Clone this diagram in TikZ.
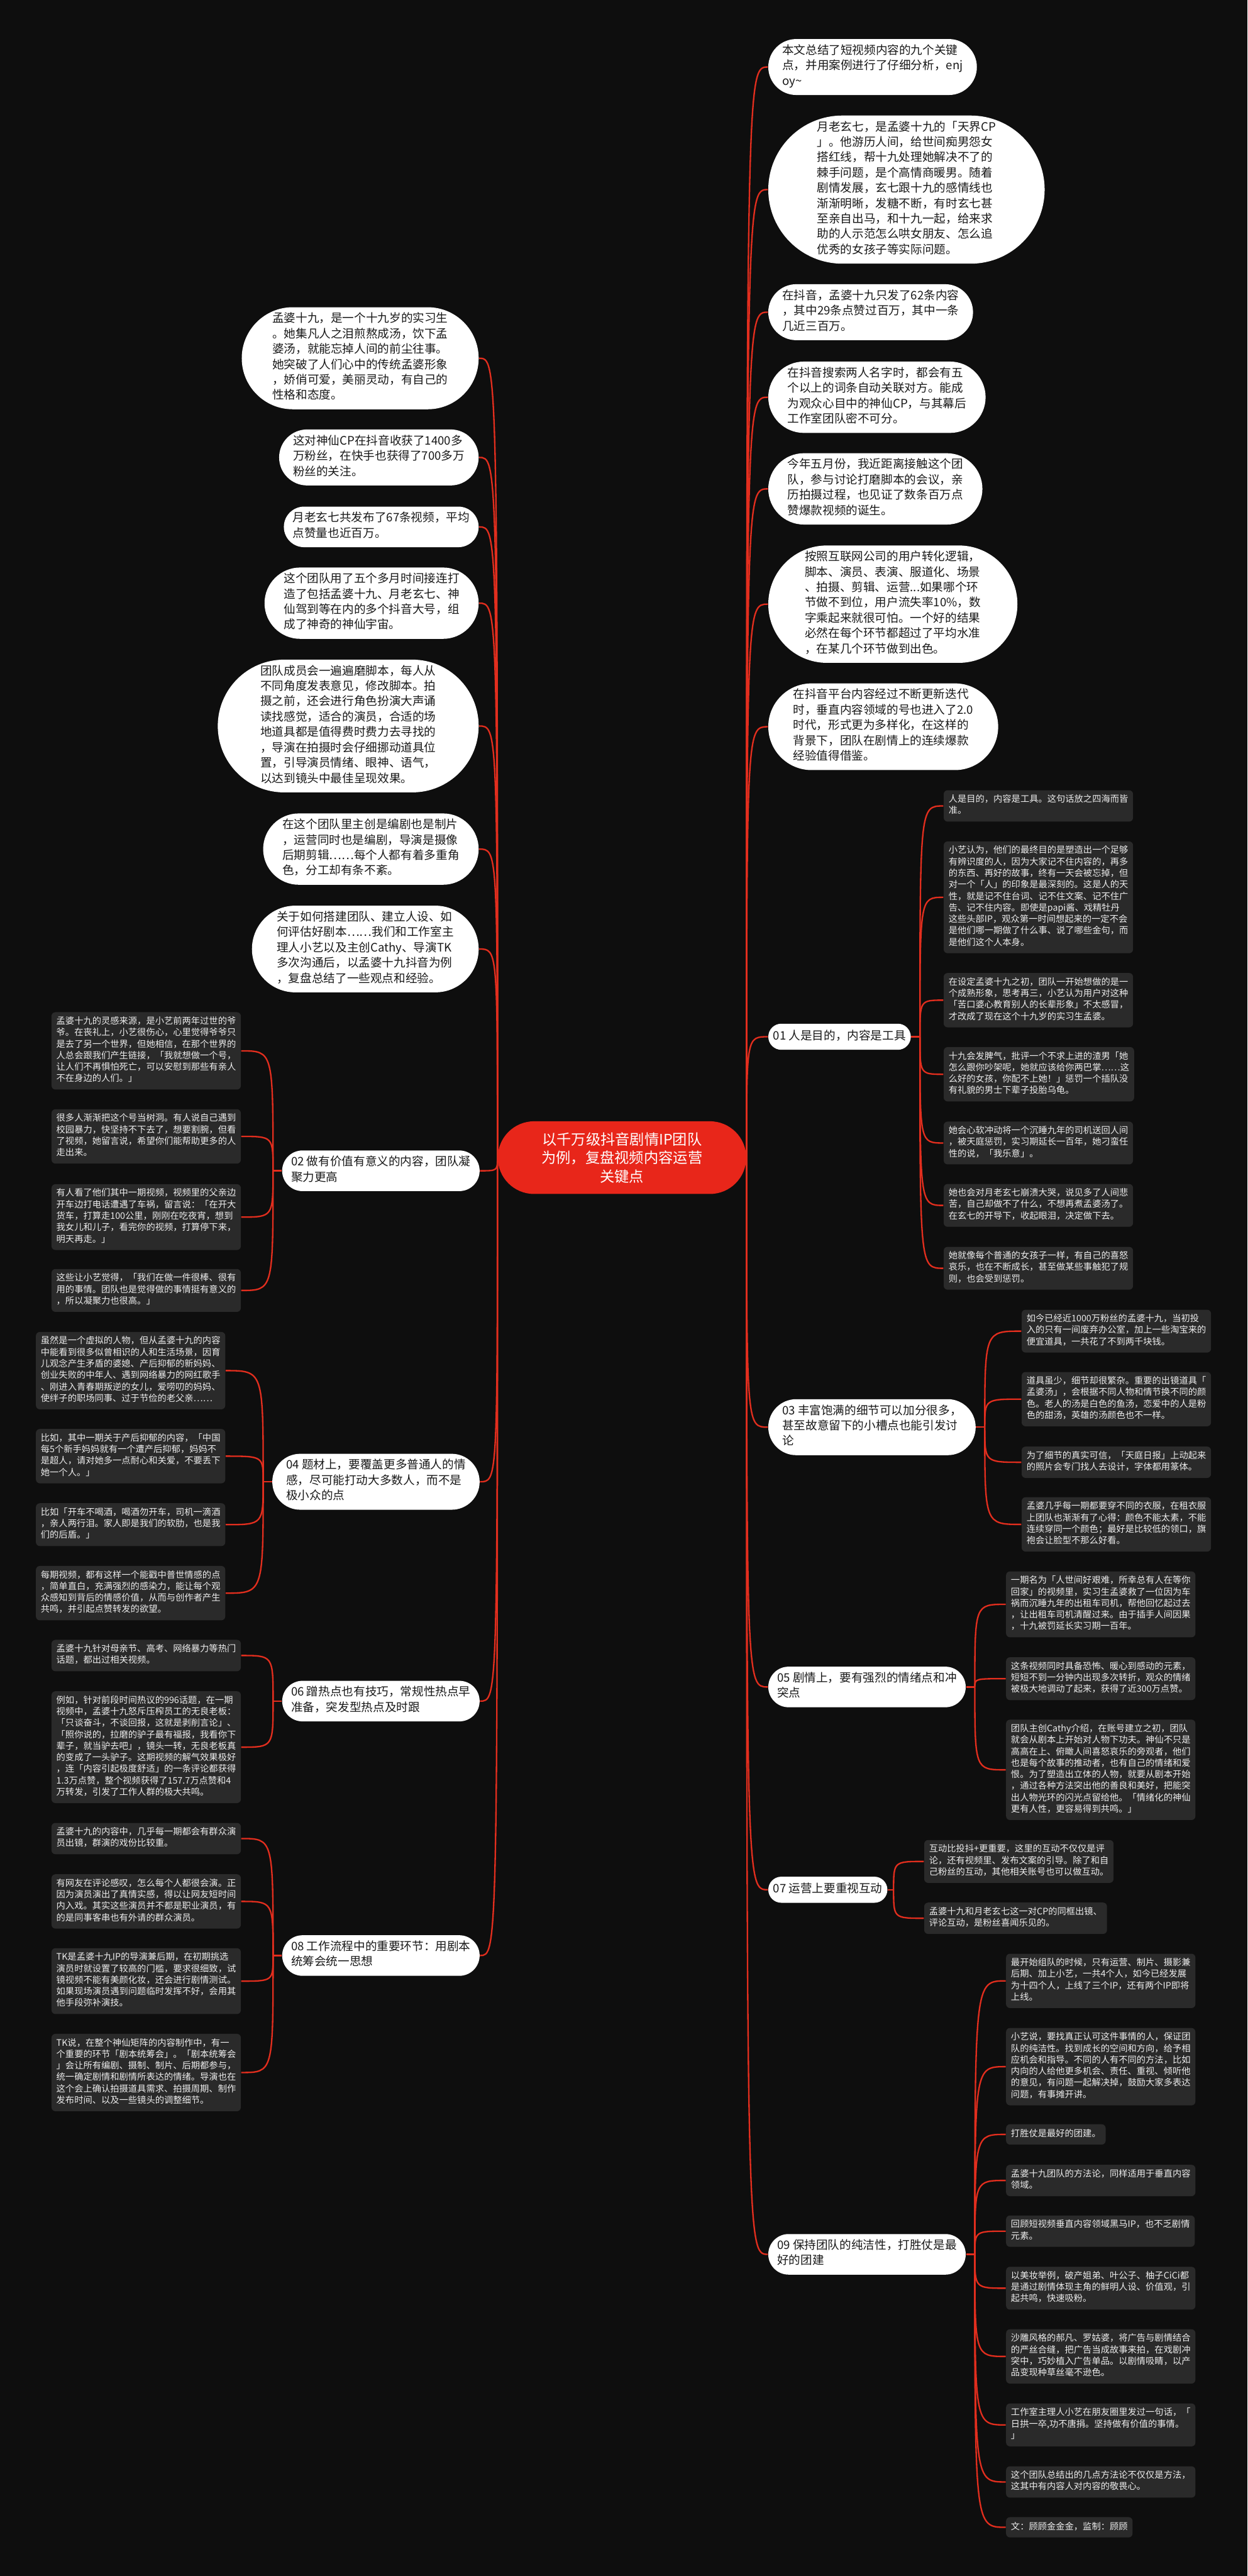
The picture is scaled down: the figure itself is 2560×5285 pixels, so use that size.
\documentclass[tikz,border=0pt]{standalone}
\usepackage{fontspec}
\setmainfont{Noto Sans CJK SC}
\XeTeXlinebreaklocale "zh"
\usepackage{xcolor}
\definecolor{bgblack}{RGB}{14,14,14}
\definecolor{leafgray}{RGB}{42,42,42}
\definecolor{mapred}{RGB}{226,46,30}
\definecolor{rootred}{RGB}{232,38,26}
\usetikzlibrary{shapes.misc, calc}
\pgfdeclarelayer{bg}
\pgfdeclarelayer{links}
\pgfsetlayers{bg,links,main}

\begin{document}
\begin{tikzpicture}[
  x=0.01cm, y=-0.01cm,
  link/.style={draw=mapred, line width=0.03cm},
  brace/.style={to path={.. controls (\tikztostart |- \tikztotarget) .. (\tikztotarget)}},
  bubble/.style={rounded rectangle, fill=white, text=black!90, font=\fontsize{6.83pt}{8.96pt}\selectfont, align=left, inner xsep=0.05cm, inner ysep=0.11cm, execute at begin node=\strut, execute at end node=\strut},
  leaf/.style={rectangle, rounded corners=0.08cm, fill=leafgray, text=white!93!black, font=\fontsize{5.24pt}{6.71pt}\selectfont, align=left, inner xsep=0.1cm, inner ysep=0.09cm, execute at begin node=\strut, execute at end node=\strut},
  root/.style={rounded rectangle, fill=rootred, text=white, font=\fontsize{8.54pt}{10.8pt}\selectfont, align=center, minimum height=1.49cm, minimum width=5.33cm}
]
  \useasboundingbox (0,0) rectangle (2560,5285);
  \begin{pgfonlayer}{bg}
    \fill[bgblack] (0,0) rectangle (2560,5285);
  \end{pgfonlayer}

  % root
  \node[root] (root) at (1276.5,2375) {以千万级抖音剧情IP团队\\为例，复盘视频内容运营\\关键点};

  % right side, free notes
  \node[bubble, anchor=west] (r1) at (1576,137.5) {本文总结了短视频内容的九个关键\\点，并用案例进行了仔细分析，enj\\oy\textasciitilde};
  \node[bubble, anchor=west] (r2) at (1576,389) {月老玄七，是孟婆十九的「天界CP\\」。他游历人间，给世间痴男怨女\\搭红线，帮十九处理她解决不了的\\棘手问题，是个高情商暖男。随着\\剧情发展，玄七跟十九的感情线也\\渐渐明晰，发糖不断，有时玄七甚\\至亲自出马，和十九一起，给来求\\助的人示范怎么哄女朋友、怎么追\\优秀的女孩子等实际问题。};
  \node[bubble, anchor=west] (r3) at (1576,640.5) {在抖音，孟婆十九只发了62条内容\\，其中29条点赞过百万，其中一条\\几近三百万。};
  \node[bubble, anchor=west] (r4) at (1576,815) {在抖音搜索两人名字时，都会有五\\个以上的词条自动关联对方。能成\\为观众心目中的神仙CP，与其幕后\\工作室团队密不可分。};
  \node[bubble, anchor=west] (r5) at (1576,1003) {今年五月份，我近距离接触这个团\\队，参与讨论打磨脚本的会议，亲\\历拍摄过程，也见证了数条百万点\\赞爆款视频的诞生。};
  \node[bubble, anchor=west] (r6) at (1576,1239.5) {按照互联网公司的用户转化逻辑，\\脚本、演员、表演、服道化、场景\\、拍摄、剪辑、运营...如果哪个环\\节做不到位，用户流失率10\%，数\\字乘起来就很可怕。一个好的结果\\必然在每个环节都超过了平均水准\\，在某几个环节做到出色。};
  \node[bubble, anchor=west] (r7) at (1576,1491) {在抖音平台内容经过不断更新迭代\\时，垂直内容领域的号也进入了2.0\\时代，形式更为多样化，在这样的\\背景下，团队在剧情上的连续爆款\\经验值得借鉴。};

  % left side, free notes
  \node[bubble, anchor=east] (l1) at (983,735) {孟婆十九，是一个十九岁的实习生\\。她集凡人之泪煎熬成汤，饮下孟\\婆汤，就能忘掉人间的前尘往事。\\她突破了人们心中的传统孟婆形象\\，娇俏可爱，美丽灵动，有自己的\\性格和态度。};
  \node[bubble, anchor=east] (l2) at (983,938.5) {这对神仙CP在抖音收获了1400多\\万粉丝，在快手也获得了700多万\\粉丝的关注。};
  \node[bubble, anchor=east] (l3) at (983,1081) {月老玄七共发布了67条视频，平均\\点赞量也近百万。};
  \node[bubble, anchor=east] (l4) at (983,1237.5) {这个团队用了五个多月时间接连打\\造了包括孟婆十九、月老玄七、神\\仙驾到等在内的多个抖音大号，组\\成了神奇的神仙宇宙。};
  \node[bubble, anchor=east] (l5) at (983,1489.5) {团队成员会一遍遍磨脚本，每人从\\不同角度发表意见，修改脚本。拍\\摄之前，还会进行角色扮演大声诵\\读找感觉，适合的演员，合适的场\\地道具都是值得费时费力去寻找的\\，导演在拍摄时会仔细挪动道具位\\置，引导演员情绪、眼神、语气，\\以达到镜头中最佳呈现效果。};
  \node[bubble, anchor=east] (l6) at (983,1742) {在这个团队里主创是编剧也是制片\\，运营同时也是编剧，导演是摄像\\后期剪辑……每个人都有着多重角\\色，分工却有条不紊。};
  \node[bubble, anchor=east] (l7) at (983,1947) {关于如何搭建团队、建立人设、如\\何评估好剧本……我们和工作室主\\理人小艺以及主创Cathy、导演TK\\多次沟通后，以孟婆十九抖音为例\\，复盘总结了一些观点和经验。};

  % the nine key points
  \node[bubble, anchor=west] (b01) at (1576,2127) {01 人是目的，内容是工具};
  \node[bubble, anchor=east] (b02) at (985,2402) {02 做有价值有意义的内容，团队凝\\聚力更高};
  \node[bubble, anchor=west] (b03) at (1576,2928) {03 丰富饱满的细节可以加分很多，\\甚至故意留下的小槽点也能引发讨\\论};
  \node[bubble, anchor=east] (b04) at (985,3040) {04 题材上，要覆盖更多普通人的情\\感，尽可能打动大多数人，而不是\\极小众的点};
  \node[bubble, anchor=west] (b05) at (1576,3461) {05 剧情上，要有强烈的情绪点和冲\\突点};
  \node[bubble, anchor=east] (b06) at (985,3490) {06 蹭热点也有技巧，常规性热点早\\准备，突发型热点及时跟};
  \node[bubble, anchor=west] (b07) at (1576,3877) {07 运营上要重视互动};
  \node[bubble, anchor=east] (b08) at (985,4012) {08 工作流程中的重要环节：用剧本\\统筹会统一思想};
  \node[bubble, anchor=west] (b09) at (1576,4625) {09 保持团队的纯洁性，打胜仗是最\\好的团建};

  % 01
  \node[leaf, anchor=west] (c01-1) at (1936,1653.5) {人是目的，内容是工具。这句话放之四海而皆\\准。};
  \node[leaf, anchor=west] (c01-2) at (1936,1841) {小艺认为，他们的最终目的是塑造出一个足够\\有辨识度的人，因为大家记不住内容的，再多\\的东西、再好的故事，终有一天会被忘掉，但\\对一个「人」的印象是最深刻的。这是人的天\\性，就是记不住台词、记不住文案、记不住广\\告、记不住内容。即使是papi酱、戏精牡丹\\这些头部IP，观众第一时间想起来的一定不会\\是他们哪一期做了什么事、说了哪些金句，而\\是他们这个人本身。};
  \node[leaf, anchor=west] (c01-3) at (1936,2052) {在设定孟婆十九之初，团队一开始想做的是一\\个成熟形象，思考再三，小艺认为用户对这种\\「苦口婆心教育别人的长辈形象」不太感冒，\\才改成了现在这个十九岁的实习生孟婆。};
  \node[leaf, anchor=west] (c01-4) at (1936,2204) {十九会发脾气，批评一个不求上进的渣男「她\\怎么跟你吵架呢，她就应该给你两巴掌……这\\么好的女孩，你配不上她！」惩罚一个插队没\\有礼貌的男士下辈子投胎乌龟。};
  \node[leaf, anchor=west] (c01-5) at (1936,2345) {她会心软冲动将一个沉睡九年的司机送回人间\\，被天庭惩罚，实习期延长一百年，她刁蛮任\\性的说，「我乐意」。};
  \node[leaf, anchor=west] (c01-6) at (1936,2473) {她也会对月老玄七崩溃大哭，说见多了人间悲\\苦，自己却做不了什么，不想再煮孟婆汤了。\\在玄七的开导下，收起眼泪，决定做下去。};
  \node[leaf, anchor=west] (c01-7) at (1936,2602) {她就像每个普通的女孩子一样，有自己的喜怒\\哀乐，也在不断成长，甚至做某些事触犯了规\\则，也会受到惩罚。};

  % 02
  \node[leaf, anchor=east] (c02-1) at (495,2156) {孟婆十九的灵感来源，是小艺前两年过世的爷\\爷。在丧礼上，小艺很伤心，心里觉得爷爷只\\是去了另一个世界，但她相信，在那个世界的\\人总会跟我们产生链接，「我就想做一个号，\\让人们不再惧怕死亡，可以安慰到那些有亲人\\不在身边的人们。」};
  \node[leaf, anchor=east] (c02-2) at (495,2331.5) {很多人渐渐把这个号当树洞。有人说自己遇到\\校园暴力，快坚持不下去了，想要割腕，但看\\了视频，她留言说，希望你们能帮助更多的人\\走出来。};
  \node[leaf, anchor=east] (c02-3) at (495,2497) {有人看了他们其中一期视频，视频里的父亲边\\开车边打电话遭遇了车祸，留言说：「在开大\\货车，打算走100公里，刚刚在吃夜宵，想到\\我女儿和儿子，看完你的视频，打算停下来，\\明天再走。」};
  \node[leaf, anchor=east] (c02-4) at (495,2647.5) {这些让小艺觉得，「我们在做一件很棒、很有\\用的事情。团队也是觉得做的事情挺有意义的\\，所以凝聚力也很高。」};

  % 03
  \node[leaf, anchor=west] (c03-1) at (2096,2731) {如今已经近1000万粉丝的孟婆十九，当初投\\入的只有一间废弃办公室，加上一些淘宝来的\\便宜道具，一共花了不到两千块钱。};
  \node[leaf, anchor=west] (c03-2) at (2096,2870.5) {道具虽少，细节却很繁杂。重要的出镜道具「\\孟婆汤」，会根据不同人物和情节换不同的颜\\色。老人的汤是白色的鱼汤，恋爱中的人是粉\\色的甜汤，英雄的汤颜色也不一样。};
  \node[leaf, anchor=west] (c03-3) at (2096,3000) {为了细节的真实可信，「天庭日报」上动起来\\的照片会专门找人去设计，字体都用篆体。};
  \node[leaf, anchor=west] (c03-4) at (2096,3127.5) {孟婆几乎每一期都要穿不同的衣服，在租衣服\\上团队也渐渐有了心得：颜色不能太素，不能\\连续穿同一个颜色；最好是比较低的领口，旗\\袍会让脸型不那么好看。};

  % 04
  \node[leaf, anchor=east] (c04-1) at (463,2812) {虽然是一个虚拟的人物，但从孟婆十九的内容\\中能看到很多似曾相识的人和生活场景，因育\\儿观念产生矛盾的婆媳、产后抑郁的新妈妈、\\创业失败的中年人、遇到网络暴力的网红歌手\\、刚进入青春期叛逆的女儿，爱唠叨的妈妈、\\使绊子的职场同事、过于节俭的老父亲……};
  \node[leaf, anchor=east] (c04-2) at (463,2987.5) {比如，其中一期关于产后抑郁的内容，「中国\\每5个新手妈妈就有一个遭产后抑郁，妈妈不\\是超人，请对她多一点耐心和关爱，不要丢下\\她一个人。」};
  \node[leaf, anchor=east] (c04-3) at (463,3128) {比如「开车不喝酒，喝酒勿开车，司机一滴酒\\，亲人两行泪。家人即是我们的软肋，也是我\\们的后盾。」};
  \node[leaf, anchor=east] (c04-4) at (463,3268.5) {每期视频，都有这样一个能戳中普世情感的点\\，简单直白，充满强烈的感染力，能让每个观\\众感知到背后的情感价值，从而与创作者产生\\共鸣，并引起点赞转发的欲望。};

  % 05
  \node[leaf, anchor=west] (c05-1) at (2064,3291.5) {一期名为「人世间好艰难，所幸总有人在等你\\回家」的视频里，实习生孟婆救了一位因为车\\祸而沉睡九年的出租车司机，帮他回忆起过去\\，让出租车司机清醒过来。由于插手人间因果\\，十九被罚延长实习期一百年。};
  \node[leaf, anchor=west] (c05-2) at (2064,3444) {这条视频同时具备恐怖、暖心到感动的元素，\\短短不到一分钟内出现多次转折，观众的情绪\\被极大地调动了起来，获得了近300万点赞。};
  \node[leaf, anchor=west] (c05-3) at (2064,3631) {团队主创Cathy介绍，在账号建立之初，团队\\就会从剧本上开始对人物下功夫。神仙不只是\\高高在上、俯瞰人间喜怒哀乐的旁观者，他们\\也是每个故事的推动者，也有自己的情绪和爱\\恨。为了塑造出立体的人物，就要从剧本开始\\，通过各种方法突出他的善良和美好，把能突\\出人物光环的闪光点留给他。「情绪化的神仙\\更有人性，更容易得到共鸣。」};

  % 06
  \node[leaf, anchor=east] (c06-1) at (495,3396.5) {孟婆十九针对母亲节、高考、网络暴力等热门\\话题，都出过相关视频。};
  \node[leaf, anchor=east] (c06-2) at (495,3584.5) {例如，针对前段时间热议的996话题，在一期\\视频中，孟婆十九怒斥压榨员工的无良老板：\\「只谈奋斗，不谈回报，这就是剥削言论」、\\「照你说的，拉磨的驴子最有福报，我看你下\\辈子，就当驴去吧」，镜头一转，无良老板真\\的变成了一头驴子。这期视频的解气效果极好\\，连「内容引起极度舒适」的一条评论都获得\\1.3万点赞，整个视频获得了157.7万点赞和4\\万转发，引发了工作人群的极大共鸣。};

  % 07
  \node[leaf, anchor=west] (c07-1) at (1896,3819) {互动比投抖+更重要，这里的互动不仅仅是评\\论，还有视频里、发布文案的引导。除了和自\\己粉丝的互动，其他相关账号也可以做互动。};
  \node[leaf, anchor=west] (c07-2) at (1896,3935.5) {孟婆十九和月老玄七这一对CP的同框出镜、\\评论互动，是粉丝喜闻乐见的。};

  % 08
  \node[leaf, anchor=east] (c08-1) at (495,3772) {孟婆十九的内容中，几乎每一期都会有群众演\\员出镜，群演的戏份比较重。};
  \node[leaf, anchor=east] (c08-2) at (495,3901) {有网友在评论感叹，怎么每个人都很会演。正\\因为演员演出了真情实感，得以让网友短时间\\内入戏。其实这些演员并不都是职业演员，有\\的是同事客串也有外请的群众演员。};
  \node[leaf, anchor=east] (c08-3) at (495,4064.5) {TK是孟婆十九IP的导演兼后期，在初期挑选\\演员时就设置了较高的门槛，要求很细致，试\\镜视频不能有美颜化妆，还会进行剧情测试。\\如果现场演员遇到问题临时发挥不好，会用其\\他手段弥补演技。};
  \node[leaf, anchor=east] (c08-4) at (495,4252) {TK说，在整个神仙矩阵的内容制作中，有一\\个重要的环节「剧本统筹会」。「剧本统筹会\\」会让所有编剧、摄制、制片、后期都参与，\\统一确定剧情和剧情所表达的情绪。导演也在\\这个会上确认拍摄道具需求、拍摄周期、制作\\发布时间、以及一些镜头的调整细节。};

  % 09
  \node[leaf, anchor=west] (c09-1) at (2064,4064) {最开始组队的时候，只有运营、制片、摄影兼\\后期、加上小艺，一共4个人，如今已经发展\\为十四个人，上线了三个IP，还有两个IP即将\\上线。};
  \node[leaf, anchor=west] (c09-2) at (2064,4240) {小艺说，要找真正认可这件事情的人，保证团\\队的纯洁性。找到成长的空间和方向，给予相\\应机会和指导。不同的人有不同的方法，比如\\内向的人给他更多机会、责任、重视、倾听他\\的意见，有问题一起解决掉，鼓励大家多表达\\问题，有事摊开讲。};
  \node[leaf, anchor=west] (c09-3) at (2064,4379) {打胜仗是最好的团建。};
  \node[leaf, anchor=west] (c09-4) at (2064,4473.5) {孟婆十九团队的方法论，同样适用于垂直内容\\领域。};
  \node[leaf, anchor=west] (c09-5) at (2064,4577.5) {回顾短视频垂直内容领域黑马IP，也不乏剧情\\元素。};
  \node[leaf, anchor=west] (c09-6) at (2064,4694.5) {以美妆举例，破产姐弟、叶公子、柚子CiCi都\\是通过剧情体现主角的鲜明人设、价值观，引\\起共鸣，快速吸粉。};
  \node[leaf, anchor=west] (c09-7) at (2064,4834.5) {沙雕风格的郝凡、罗姑婆，将广告与剧情结合\\的严丝合缝，把广告当成故事来拍，在戏剧冲\\突中，巧妙植入广告单品。以剧情吸睛，以产\\品变现种草丝毫不逊色。};
  \node[leaf, anchor=west] (c09-8) at (2064,4975) {工作室主理人小艺在朋友圈里发过一句话，「\\日拱一卒,功不唐捐。坚持做有价值的事情。\\」};
  \node[leaf, anchor=west] (c09-9) at (2064,5092) {这个团队总结出的几点方法论不仅仅是方法，\\这其中有内容人对内容的敬畏心。};
  \node[leaf, anchor=west] (c09-10) at (2064,5185) {文：顾顾金金金，监制：顾顾};

  % connectors
  \begin{pgfonlayer}{links}
    \draw[link, brace] (root.east) to (r1.west);
    \draw[link, brace] (root.east) to (r2.west);
    \draw[link, brace] (root.east) to (r3.west);
    \draw[link, brace] (root.east) to (r4.west);
    \draw[link, brace] (root.east) to (r5.west);
    \draw[link, brace] (root.east) to (r6.west);
    \draw[link, brace] (root.east) to (r7.west);
    \draw[link, brace] (root.east) to (b01.west);
    \draw[link, brace] (root.east) to (b03.west);
    \draw[link, brace] (root.east) to (b05.west);
    \draw[link, brace] (root.east) to (b07.west);
    \draw[link, brace] (root.east) to (b09.west);

    \draw[link, brace] (root.west) to (l1.east);
    \draw[link, brace] (root.west) to (l2.east);
    \draw[link, brace] (root.west) to (l3.east);
    \draw[link, brace] (root.west) to (l4.east);
    \draw[link, brace] (root.west) to (l5.east);
    \draw[link, brace] (root.west) to (l6.east);
    \draw[link, brace] (root.west) to (l7.east);
    \draw[link, brace] (root.west) to (b02.east);
    \draw[link, brace] (root.west) to (b04.east);
    \draw[link, brace] (root.west) to (b06.east);
    \draw[link, brace] (root.west) to (b08.east);

    \draw[link] (b01.east) -- ++(18,0) coordinate (j01);
    \draw[link, brace] (j01) to (c01-1.west);
    \draw[link, brace] (j01) to (c01-2.west);
    \draw[link, brace] (j01) to (c01-3.west);
    \draw[link, brace] (j01) to (c01-4.west);
    \draw[link, brace] (j01) to (c01-5.west);
    \draw[link, brace] (j01) to (c01-6.west);
    \draw[link, brace] (j01) to (c01-7.west);

    \draw[link] (b02.west) -- ++(-18,0) coordinate (j02);
    \draw[link, brace] (j02) to (c02-1.east);
    \draw[link, brace] (j02) to (c02-2.east);
    \draw[link, brace] (j02) to (c02-3.east);
    \draw[link, brace] (j02) to (c02-4.east);

    \draw[link] (b03.east) -- ++(18,0) coordinate (j03);
    \draw[link, brace] (j03) to (c03-1.west);
    \draw[link, brace] (j03) to (c03-2.west);
    \draw[link, brace] (j03) to (c03-3.west);
    \draw[link, brace] (j03) to (c03-4.west);

    \draw[link] (b04.west) -- ++(-18,0) coordinate (j04);
    \draw[link, brace] (j04) to (c04-1.east);
    \draw[link, brace] (j04) to (c04-2.east);
    \draw[link, brace] (j04) to (c04-3.east);
    \draw[link, brace] (j04) to (c04-4.east);

    \draw[link] (b05.east) -- ++(18,0) coordinate (j05);
    \draw[link, brace] (j05) to (c05-1.west);
    \draw[link, brace] (j05) to (c05-2.west);
    \draw[link, brace] (j05) to (c05-3.west);

    \draw[link] (b06.west) -- ++(-18,0) coordinate (j06);
    \draw[link, brace] (j06) to (c06-1.east);
    \draw[link, brace] (j06) to (c06-2.east);

    \draw[link] (b07.east) -- ++(12,0) coordinate (j07);
    \draw[link, brace] (j07) to (c07-1.west);
    \draw[link, brace] (j07) to (c07-2.west);

    \draw[link] (b08.west) -- ++(-18,0) coordinate (j08);
    \draw[link, brace] (j08) to (c08-1.east);
    \draw[link, brace] (j08) to (c08-2.east);
    \draw[link, brace] (j08) to (c08-3.east);
    \draw[link, brace] (j08) to (c08-4.east);

    \draw[link] (b09.east) -- ++(18,0) coordinate (j09);
    \draw[link, brace] (j09) to (c09-1.west);
    \draw[link, brace] (j09) to (c09-2.west);
    \draw[link, brace] (j09) to (c09-3.west);
    \draw[link, brace] (j09) to (c09-4.west);
    \draw[link, brace] (j09) to (c09-5.west);
    \draw[link, brace] (j09) to (c09-6.west);
    \draw[link, brace] (j09) to (c09-7.west);
    \draw[link, brace] (j09) to (c09-8.west);
    \draw[link, brace] (j09) to (c09-9.west);
    \draw[link, brace] (j09) to (c09-10.west);
  \end{pgfonlayer}
\end{tikzpicture}
\end{document}
